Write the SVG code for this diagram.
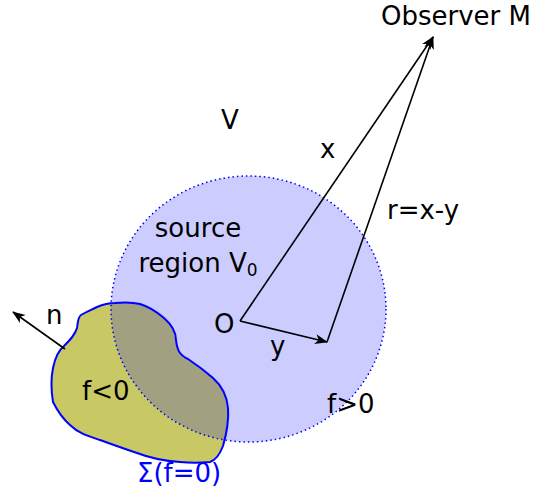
<svg xmlns="http://www.w3.org/2000/svg" width="533" height="498" viewBox="0 0 533 498">
<style>
text{font-family:"DejaVu Sans","Liberation Sans",sans-serif;font-size:26px;fill:#000}
.conn{stroke:#000;stroke-width:1.6;fill:none}
</style>
<defs>
<marker id="ah" viewBox="-14 -7 16 14" refX="0" refY="0" markerWidth="16" markerHeight="14" markerUnits="userSpaceOnUse" orient="auto">
<path d="M1,0 L-12,-5 L-8.5,0 L-12,5 Z" fill="#000"/>
</marker>
<path id="blobp" d="M115,303 C125,302 132,302 140,304 C150,307 157,312 164,318 C172,325 176,332 176,340 C177,349 179,355 188,359 C197,365 205,371 213,378 C222,386 227,396 228,408 C229,420 227,432 223,446 C220,454 216,460 210,462 C200,463 190,463 180,462 C165,461 150,458 137,453 C125,449 114,445 100,440 C88,436 78,433 70,425 C62,418 57,410 53,402 C51,390 51,378 53,368 C55,358 59,350 64,346 C70,340 75,335 77,328 C78,321 78,317 81,315 C86,312 91,310 97,307 C104,304 109,303 115,303 Z"/>
<clipPath id="circClip"><ellipse cx="248.5" cy="309" rx="137.5" ry="133"/></clipPath>
</defs>
<g id="region-V0">
<ellipse cx="248.5" cy="309" rx="137.5" ry="133" fill="#ccccff"/>
</g>
<g id="surface-sigma">
<use href="#blobp" fill="#c8c864"/>
<use href="#blobp" fill="#a1a080" clip-path="url(#circClip)"/>
<use href="#blobp" fill="none" stroke="#0000ff" stroke-width="2"/>
</g>
<g id="region-V0-outline">
<ellipse cx="248.5" cy="309" rx="137.5" ry="133" fill="none" stroke="#0000ff" stroke-width="1.5" stroke-dasharray="1.5,3"/>
</g>
<g id="connectors">
<line class="conn" x1="240" y1="321" x2="433" y2="37" marker-end="url(#ah)"/>
<line class="conn" x1="240" y1="321" x2="327" y2="342" marker-end="url(#ah)"/>
<line class="conn" x1="327" y1="342" x2="433" y2="37" marker-end="url(#ah)"/>
<line class="conn" x1="65" y1="349" x2="13" y2="312" marker-end="url(#ah)"/>
</g>
<g id="observer"><text x="381" y="25">Observer M</text></g>
<g id="origin"><text x="214" y="333">O</text></g>
<g id="labels">
<text x="221" y="129">V</text>
<text x="320" y="158">x</text>
<text x="387" y="219">r=x-y</text>
<text x="198" y="237" text-anchor="middle">source</text>
<text x="198" y="272" text-anchor="middle">region V<tspan font-size="17" dy="4">0</tspan></text>
<text x="270" y="355">y</text>
<text x="327" y="413">f&gt;0</text>
<text x="82" y="400">f&lt;0</text>
<text x="46" y="324">n</text>
<text x="137" y="482" style="fill:#0000ff">Σ(f=0)</text>
</g>
</svg>
